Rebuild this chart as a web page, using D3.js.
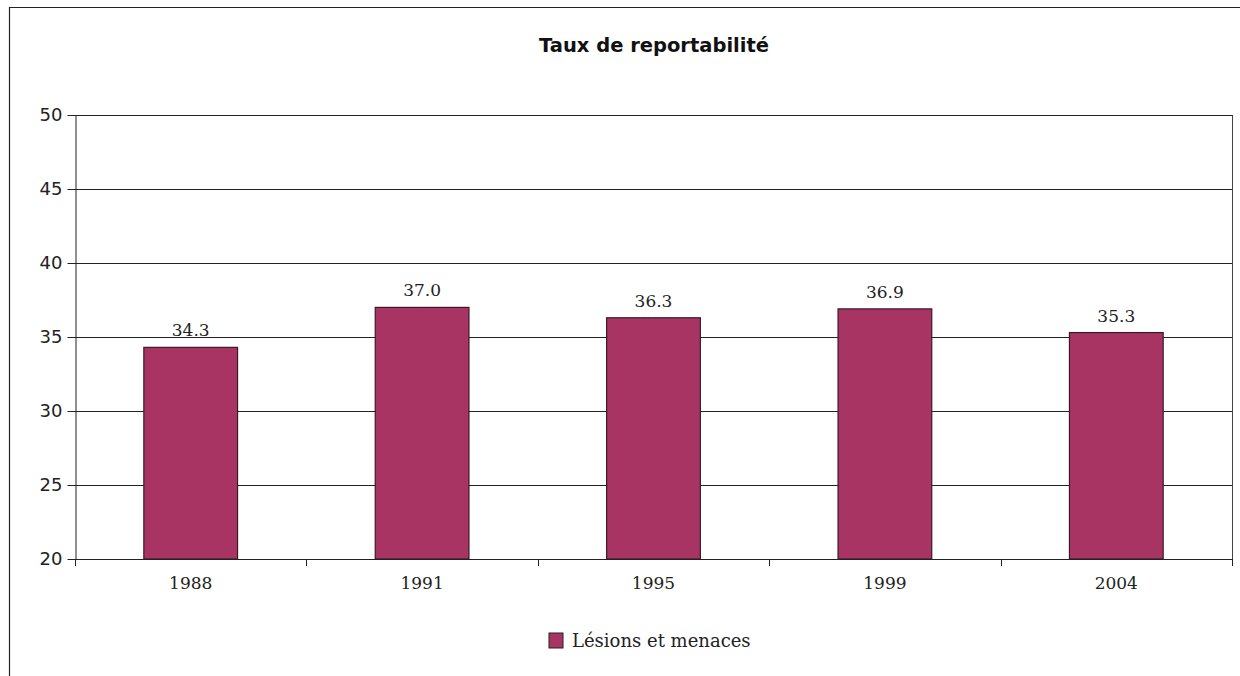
<!DOCTYPE html>
<html>
<head>
<meta charset="utf-8">
<script src="https://cdn.jsdelivr.net/npm/d3@7"></script>
<style>
  body { margin: 0; background: #fff; }
  svg { display: block; }
</style>
</head>
<body>
<script>
var years = ["1988", "1991", "1995", "1999", "2004"];
var values = [34.3, 37.0, 36.3, 36.9, 35.3];
var yTicks = [20, 25, 30, 35, 40, 45, 50];
var seriesName = "Lésions et menaces";
var title = "Taux de reportabilité";

var width = 1240, height = 676;
var margin = {left: 75, top: 115, right: 1240 - 1232, bottom: 676 - 559};
var barColor = "#a73462";

var svg = d3.select("body").append("svg")
  .attr("width", width)
  .attr("height", height);

// cadre exterieur (coupe a droite et en bas)
svg.append("path")
  .attr("d", "M9.5,676 L9.5,7.5 L1240,7.5")
  .attr("fill", "none")
  .attr("stroke", "#222")
  .attr("stroke-width", 1.2);

var xScale = d3.scaleBand()
  .domain(years)
  .range([margin.left, width - margin.right])
  .paddingInner(0.595)
  .paddingOuter(0.2975);

var yScale = d3.scaleLinear()
  .domain([20, 50])
  .range([height - margin.bottom, margin.top]);

// grille
svg.append("g")
  .selectAll("line")
  .data(yTicks)
  .enter().append("line")
  .attr("x1", margin.left)
  .attr("x2", width - margin.right)
  .attr("y1", function(d) { return Math.round(yScale(d)) + 0.5; })
  .attr("y2", function(d) { return Math.round(yScale(d)) + 0.5; })
  .attr("stroke", "#222")
  .attr("stroke-width", 1);

// bord droit de la zone de tracé
svg.append("line")
  .attr("x1", width - margin.right + 0.5)
  .attr("x2", width - margin.right + 0.5)
  .attr("y1", yScale(50))
  .attr("y2", yScale(20) + 6)
  .attr("stroke", "#444");

// axe y
var yAxis = d3.axisLeft(yScale).tickValues(yTicks).tickSize(8).tickSizeOuter(0);
var gy = svg.append("g")
  .attr("transform", "translate(" + (margin.left + 0.5) + ",0)")
  .call(yAxis);
gy.select(".domain").attr("stroke", "#222");
gy.selectAll(".tick line").attr("stroke", "#222");
gy.selectAll(".tick text")
  .attr("x", -13)
  .attr("fill", "#222")
  .style("font-family", "'DejaVu Sans', sans-serif")
  .style("font-size", "18px");

// barres
svg.append("g")
  .selectAll("rect")
  .data(values)
  .enter().append("rect")
  .attr("x", function(d, i) { return xScale(years[i]); })
  .attr("y", function(d) { return yScale(d); })
  .attr("width", xScale.bandwidth())
  .attr("height", function(d) { return yScale(20) - yScale(d); })
  .attr("fill", barColor)
  .attr("stroke", "#3a1a28")
  .attr("stroke-width", 1.2);

// axe x
var step = xScale.step();
var xTickPos = d3.range(years.length + 1).map(function(i) { return margin.left + i * step; });
var gx = svg.append("g");
gx.append("line")
  .attr("x1", margin.left)
  .attr("x2", width - margin.right)
  .attr("y1", Math.round(yScale(20)) + 0.5)
  .attr("y2", Math.round(yScale(20)) + 0.5)
  .attr("stroke", "#222");
gx.selectAll("line.tk")
  .data(xTickPos)
  .enter().append("line")
  .attr("class", "tk")
  .attr("x1", function(d) { return Math.round(d) + 0.5; })
  .attr("x2", function(d) { return Math.round(d) + 0.5; })
  .attr("y1", yScale(20))
  .attr("y2", yScale(20) + 7)
  .attr("stroke", "#222");
gx.selectAll("text")
  .data(years)
  .enter().append("text")
  .attr("x", function(d) { return xScale(d) + xScale.bandwidth() / 2; })
  .attr("y", yScale(20) + 30)
  .attr("text-anchor", "middle")
  .attr("fill", "#222")
  .style("font-family", "'DejaVu Serif', serif")
  .style("font-size", "17px")
  .text(function(d) { return d; });

// etiquettes de valeurs
svg.append("g")
  .selectAll("text")
  .data(values)
  .enter().append("text")
  .attr("x", function(d, i) { return xScale(years[i]) + xScale.bandwidth() / 2; })
  .attr("y", function(d) { return yScale(d) - 11; })
  .attr("text-anchor", "middle")
  .attr("fill", "#222")
  .style("font-family", "'DejaVu Serif', serif")
  .style("font-size", "17px")
  .text(function(d) { return d.toFixed(1); });

// titre
svg.append("text")
  .attr("x", 654)
  .attr("y", 52)
  .attr("text-anchor", "middle")
  .attr("fill", "#111")
  .style("font-family", "'DejaVu Sans', sans-serif")
  .style("font-weight", "bold")
  .style("font-size", "19.5px")
  .text(title);

// legende
var leg = svg.append("g").attr("transform", "translate(549,641)");
leg.append("rect")
  .attr("x", 0).attr("y", -8)
  .attr("width", 14).attr("height", 15)
  .attr("fill", barColor)
  .attr("stroke", "#222");
leg.append("text")
  .attr("x", 23).attr("y", 6)
  .attr("fill", "#222")
  .style("font-family", "'DejaVu Serif', serif")
  .style("font-size", "18px")
  .text(seriesName);
</script>
</body>
</html>
